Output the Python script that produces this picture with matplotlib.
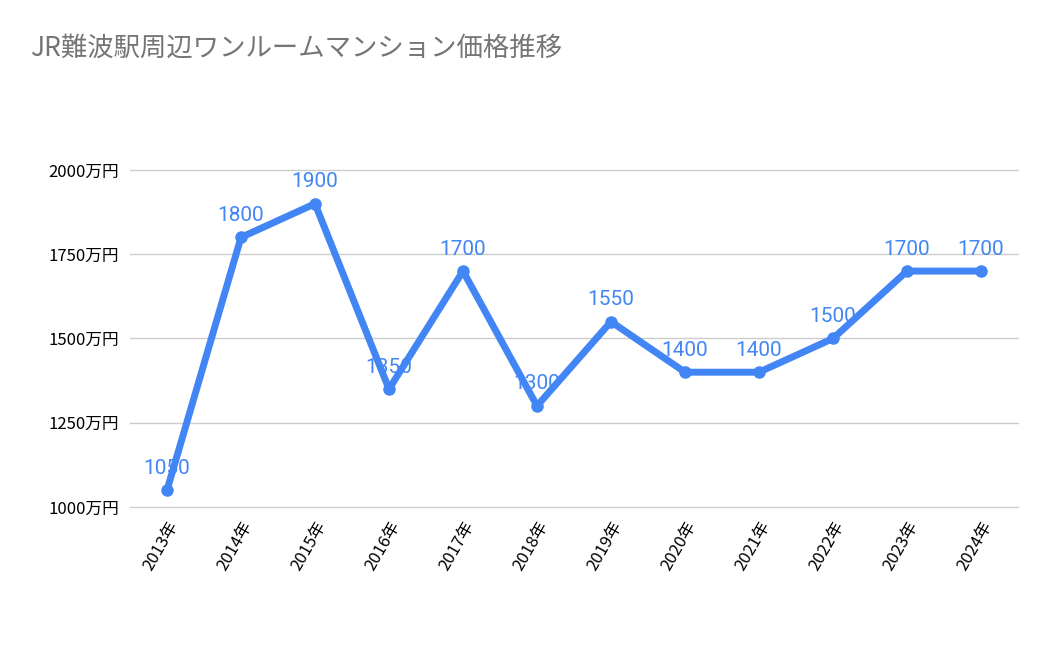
import matplotlib
matplotlib.use("Agg")
import matplotlib.pyplot as plt

plt.rcParams["font.family"] = ["Roboto", "Noto Sans CJK JP"]

years = ["2013年", "2014年", "2015年", "2016年", "2017年", "2018年",
         "2019年", "2020年", "2021年", "2022年", "2023年", "2024年"]
prices = [1050, 1800, 1900, 1350, 1700, 1300, 1550, 1400, 1400, 1500, 1700, 1700]
yticks = [1000, 1250, 1500, 1750, 2000]
ytick_labels = ["1000万円", "1250万円", "1500万円", "1750万円", "2000万円"]
title = "JR難波駅周辺ワンルームマンション価格推移"

color = "#4285F4"
fig = plt.figure(figsize=(10.5, 6.49), dpi=100)
ax = fig.add_axes([130/1050, 1-507/649, 888/1050, 337/649])
x = list(range(len(years)))
ax.plot(x, prices, color=color, lw=5, marker="o", ms=8, clip_on=False, zorder=3)
for xi, v in zip(x, prices):
    ax.annotate(str(v), (xi, v), xytext=(0, 9), textcoords="offset points",
                ha="center", va="bottom", color=color, fontsize=15, zorder=4)
ax.set_xlim(-0.5, len(years) - 0.5)
ax.set_ylim(1000, 2000)
ax.set_yticks(yticks)
ax.set_yticklabels(ytick_labels, fontsize=12, fontfamily="Noto Sans CJK JP")
ax.set_xticks(x)
ax.set_xticklabels(years, rotation=60, ha="right", rotation_mode="anchor",
                   fontsize=12, fontfamily="Noto Sans CJK JP")
for t in yticks:
    ax.axhline(t, color="#cccccc", lw=1, clip_on=False, zorder=1)
ax.tick_params(length=0, pad=8)
for s in ax.spines.values():
    s.set_visible(False)
fig.text(30/1050, 1-48/649, title, fontsize=19, color="#757575",
         fontfamily="Noto Sans CJK JP", va="center")
fig.savefig("out.png", dpi=100)
